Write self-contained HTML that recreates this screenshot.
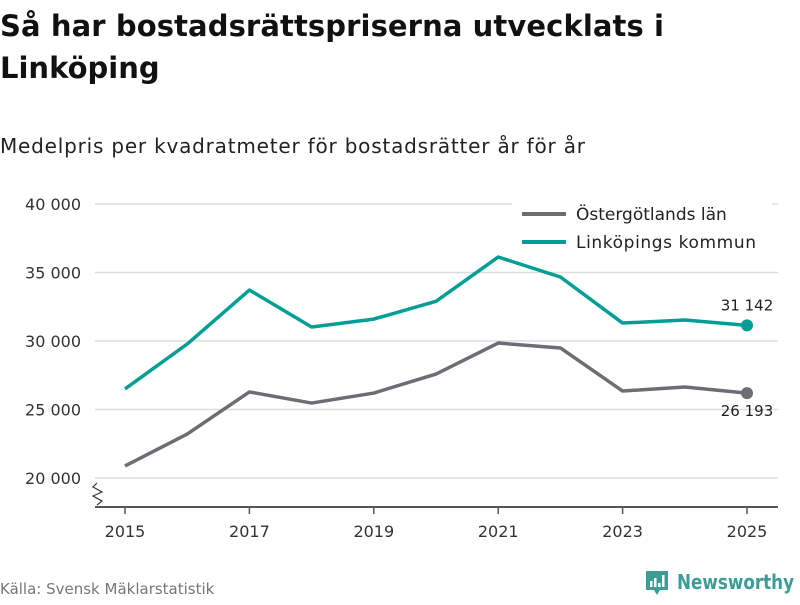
<!DOCTYPE html>
<html><head><meta charset="utf-8"><style>
body{margin:0;width:800px;height:600px;background:#fff;overflow:hidden;font-family:"Liberation Sans","DejaVu Sans",sans-serif}
svg text{font-family:"DejaVu Sans","Liberation Sans",sans-serif}
</style></head><body>
<svg id="c" width="800" height="600">
<text x="0" y="36" font-size="29" font-weight="bold" fill="#111" textLength="664">Så har bostadsrättspriserna utvecklats i</text>
<text x="0" y="78" font-size="29" font-weight="bold" fill="#111">Linköping</text>
<text x="0" y="153" font-size="20" fill="#222" textLength="585">Medelpris per kvadratmeter för bostadsrätter år för år</text>
<g id="grid"></g><g id="series"></g>
<line x1="95" y1="507" x2="778" y2="507" stroke="#555" stroke-width="2"/>
<path d="M97,483 L93,487 L102,492 L93,496 L102,501 L97,505" fill="none" stroke="#333" stroke-width="1.2"/>
<g>
<rect x="512" y="200" width="260" height="60" fill="#fff"/>
<line x1="522" y1="214" x2="566" y2="214" stroke="#6e6d75" stroke-width="4"/>
<text x="576" y="220" font-size="17" fill="#222">Östergötlands län</text>
<line x1="522" y1="242" x2="566" y2="242" stroke="#009e94" stroke-width="4"/>
<text x="576" y="248" font-size="17" fill="#222" textLength="180">Linköpings kommun</text>
</g>
<text x="0" y="594" font-size="15" fill="#777">Källa: Svensk Mäklarstatistik</text>
<g>
<path d="M646,571 h22 v19 h-8 l-3,5 l-3,-5 h-8 z" fill="#3a9e94"/>
<rect x="650" y="581" width="2.5" height="6" fill="#fff"/><rect x="654" y="578" width="2.5" height="9" fill="#fff"/><rect x="658" y="583" width="2.5" height="4" fill="#fff"/><rect x="662" y="575" width="2.5" height="12" fill="#fff"/>
<text x="677" y="589" font-size="20" font-weight="bold" fill="#3a9e94" textLength="117" lengthAdjust="spacingAndGlyphs">Newsworthy</text>
</g>
</svg>
<script>
const years=[2015,2016,2017,2018,2019,2020,2021,2022,2023,2024,2025];
const ostergotland=[20880,23210,26280,25470,26200,27590,29850,29490,26350,26640,26193];
const linkoping=[26500,29780,33720,31020,31600,32900,36130,34670,31310,31530,31142];
const yTicks=[20000,25000,30000,35000,40000];
const xTicks=[2015,2017,2019,2021,2023,2025];
const NS="http://www.w3.org/2000/svg";
const x=v=>125+(v-2015)*62.2;
const y=v=>478-(v-20000)*(274/20000);
const fmt=v=>String(v).replace(/\B(?=(\d{3})+(?!\d))/g,"\u00a0");
function mk(t,a,p){const e=document.createElementNS(NS,t);for(const k in a)e.setAttribute(k,a[k]);p.appendChild(e);return e;}
const g=document.getElementById('grid'),s=document.getElementById('series');
yTicks.forEach(v=>{
const l=mk('line',{x1:95,x2:778,y1:y(v),y2:y(v),stroke:'#ddd','stroke-width':1.5},g);


const t=mk('text',{x:81,y:y(v)+6,'font-size':16,fill:'#333','text-anchor':'end'},g);t.textContent=fmt(v);


});
xTicks.forEach(v=>{
const l=mk('line',{x1:x(v),x2:x(v),y1:507,y2:514,stroke:'#555','stroke-width':1.5},g);


const t=mk('text',{x:x(v),y:537,'font-size':16,fill:'#333','text-anchor':'middle'},g);t.textContent=v;


});
function line(vals,color,name,labelDy){
const p=mk('polyline',{points:vals.map((v,i)=>x(years[i])+','+y(v)).join(' '),fill:'none',stroke:color,'stroke-width':3.5,'stroke-linejoin':'round'},s);


const n=vals.length-1;
const c=mk('circle',{cx:x(years[n]),cy:y(vals[n]),r:6,fill:color},s);


const t=mk('text',{x:x(years[n]),y:y(vals[n])+labelDy,'font-size':15,fill:'#222','text-anchor':'middle'},s);t.textContent=fmt(vals[n]);


}
line(ostergotland,'#6e6d75','ostergotland',23);
line(linkoping,'#009e94','linkoping',-15);
</script>
</body></html>
